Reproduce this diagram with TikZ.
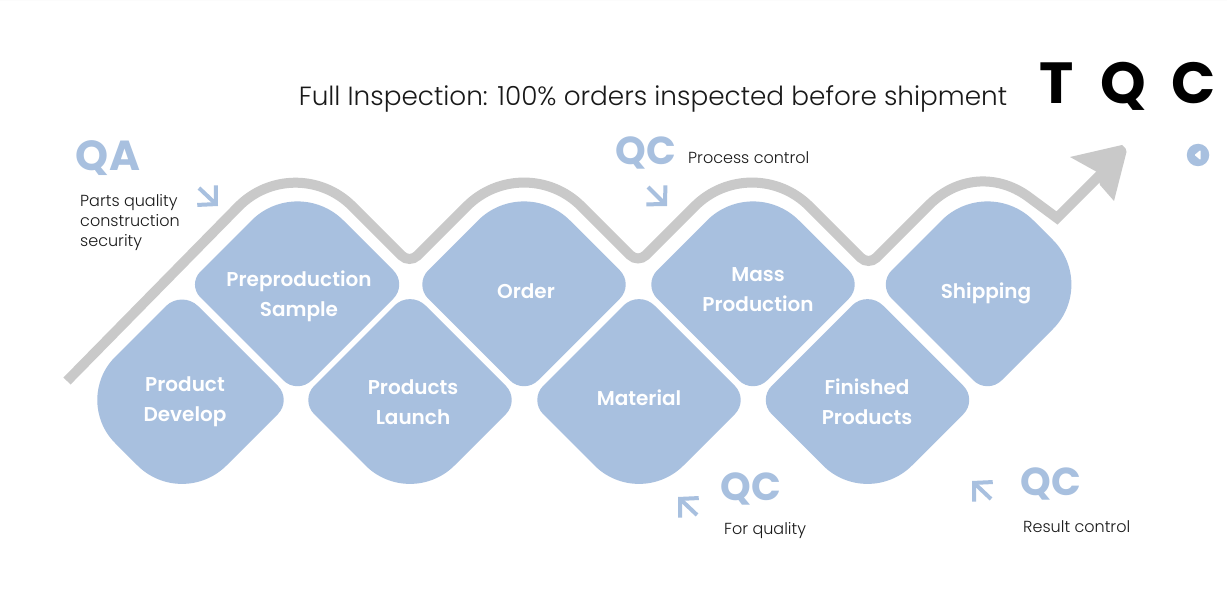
\documentclass[tikz,border=0pt]{standalone}
\usepackage{fontspec}
\setmainfont{Poppins}
\newfontfamily\lightfont{Poppins Light}
\newfontfamily\semifont{Poppins SemiBold}
\usepackage{xcolor}
\usetikzlibrary{arrows.meta, positioning}
\definecolor{blobblue}{HTML}{A8C0DF}
\definecolor{ribbongray}{HTML}{C9C9C9}

\begin{document}
\begin{tikzpicture}[
  x=1pt, y=-1pt,
  blob/.style={fill=blobblue},
  steplabel/.style={align=center, text=white, font=\fontsize{20}{30}\selectfont\semifont},
  ribbon/.style={draw=ribbongray, line width=10pt},
  qmark/.style={text=blobblue, inner sep=0pt, font=\fontsize{39}{39}\selectfont\bfseries},
  note/.style={text=black!90, inner sep=0pt, align=left, font=\fontsize{16}{20}\selectfont\lightfont},
  pointer/.style={draw=blobblue, line width=4pt, -{Straight Barb[length=13pt, width=27pt]}}
]
  \useasboundingbox (0,0) rectangle (1227,604);
  \fill[white] (0,0) rectangle (1227,604);
  \draw[black!1, step=8pt] (0,-604) grid (1227,0);

  % ribbon behind the steps
  \draw[ribbon] (67,381) [rounded corners=81pt] -- (295,149)
    [rounded corners=11pt] -- (409.5,263.5)
    [rounded corners=81pt] -- (524,149)
    [rounded corners=11pt] -- (638,263)
    [rounded corners=81pt] -- (752,149)
    [rounded corners=11pt] -- (868.5,265.5)
    [sharp corners] -- (930,204) .. controls (960,175) and (1000,175) .. (1030,198)
    -- (1057,218) -- (1104,171);
  \fill[ribbongray] (1070,157) -- (1122,145) [rounded corners=2pt] -- (1127,150) [sharp corners]
    -- (1114,201) -- (1100,185) -- (1097,172) -- cycle;

  % steps: centre x, centre y, corner radii top, right, bottom, left
  \foreach \cx/\cy/\rt/\rr/\rb/\rl in {
    182/400/23/20/63/61, 297.5/284.5/65/20/20/18, 410/400/22/20/63/20, 524/284.5/65/20/20/20,
    639/400/22/20/63/20, 753/284.5/65/20/20/20, 867.5/400/22/20/63/20, 987.5/284.5/65/63/20/20}
    \fill[blob] (\cx-55,\cy-55) [rounded corners=\rt pt] -- (\cx,\cy-110)
      [rounded corners=\rr pt] -- (\cx+110,\cy)
      [rounded corners=\rb pt] -- (\cx,\cy+110)
      [rounded corners=\rl pt] -- (\cx-110,\cy)
      [sharp corners] -- cycle;

  \node[steplabel] (develop) at (185,402) {Product\\Develop};
  \node[steplabel] (sample) at (299,296) {Preproduction\\Sample};
  \node[steplabel] (launch) at (413,402) {Products\\Launch};
  \node[steplabel] (order) at (526,291) {Order};
  \node[steplabel] (material) at (639,398) {Material};
  \node[steplabel] (mass) at (758,290) {Mass\\Production};
  \node[steplabel] (finished) at (867,402) {Finished\\Products};
  \node[steplabel] (shipping) at (986,293) {Shipping};

  \node[inner sep=0pt, text=black!90, font=\fontsize{26.3}{30}\selectfont\lightfont] (title) at (653,99)
    {Full Inspection: 100\% orders inspected before shipment};
  \node[inner sep=0pt, font=\fontsize{58}{60}\selectfont\bfseries] (tqc) at (1128,86) {\spaceskip=26pt T Q C};

  \node[circle, fill=blobblue, minimum size=22.5pt, inner sep=0pt] (back) at (1198,155) {};
  \fill[white, rounded corners=0.8pt] (1194.5,155) -- (1200.5,150) -- (1200.5,160) -- cycle;

  \node[qmark, font=\fontsize{42}{42}\selectfont\bfseries] (qa) at (108,158) {QA};
  \node[note, anchor=north west] (parts) at (80,194) {Parts quality\\construction\\security};
  \draw[pointer] (199,188) -- (218,206);

  \node[qmark] (qcprocess) at (646,153) {QC};
  \node[note, anchor=west] (process) at (688,158) {Process control};
  \draw[pointer] (648,187) -- (667,206);

  \node[qmark] (qcquality) at (751,489) {QC};
  \node[note, anchor=west] (quality) at (724,531) {For quality};
  \draw[pointer] (697,515) -- (678,497);

  \node[qmark] (qcresult) at (1051,484) {QC};
  \node[note, anchor=west] (result) at (1023,527) {Result control};
  \draw[pointer] (991,499) -- (972,481);
\end{tikzpicture}
\end{document}
